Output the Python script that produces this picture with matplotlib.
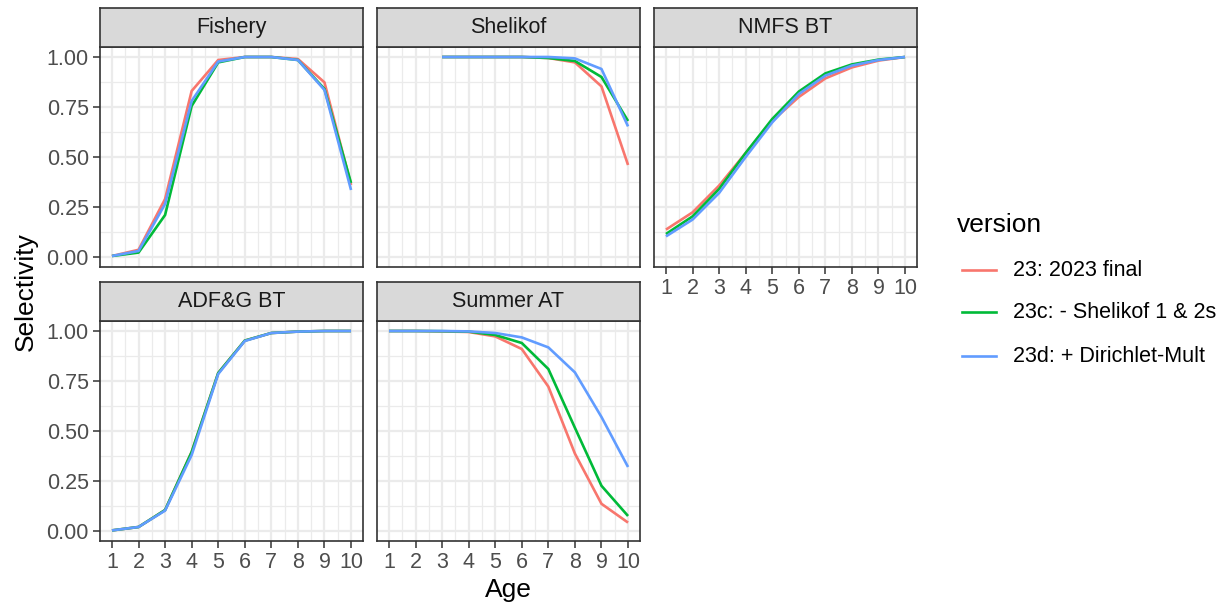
import numpy as np
import matplotlib
matplotlib.use("Agg")
from matplotlib import pyplot as plt

plt.rcParams['font.family'] = ['Liberation Sans', 'DejaVu Sans']

ages = np.arange(1, 11)
versions = ["23: 2023 final", "23c: - Shelikof 1 & 2s", "23d: + Dirichlet-Mult"]
colors = ["#F8766D", "#00BA38", "#619CFF"]

# selectivity by age, one list per version (23, 23c, 23d)
fishery = [
    [0.005, 0.036, 0.29, 0.83, 0.985, 1.0, 1.0, 0.99, 0.873, 0.36],
    [0.005, 0.022, 0.21, 0.755, 0.973, 1.0, 1.0, 0.985, 0.84, 0.37],
    [0.005, 0.030, 0.265, 0.78, 0.977, 1.0, 1.0, 0.985, 0.835, 0.335],
]
# Shelikof starts at age 3
shelikof_ages = np.arange(3, 11)
shelikof = [
    [1.0, 1.0, 1.0, 1.0, 0.995, 0.973, 0.853, 0.46],
    [1.0, 1.0, 1.0, 1.0, 0.995, 0.98, 0.90, 0.68],
    [1.0, 1.0, 1.0, 1.0, 1.0, 0.993, 0.94, 0.653],
]
nmfs_bt = [
    [0.137, 0.223, 0.357, 0.52, 0.68, 0.80, 0.893, 0.948, 0.982, 1.0],
    [0.115, 0.203, 0.34, 0.52, 0.69, 0.827, 0.918, 0.963, 0.987, 1.0],
    [0.103, 0.187, 0.32, 0.50, 0.673, 0.815, 0.907, 0.957, 0.985, 1.0],
]
adfg_bt = [
    [0.003, 0.02, 0.105, 0.395, 0.79, 0.952, 0.99, 0.997, 1.0, 1.0],
    [0.003, 0.02, 0.105, 0.395, 0.79, 0.952, 0.99, 0.997, 1.0, 1.0],
    [0.003, 0.02, 0.102, 0.38, 0.785, 0.95, 0.99, 0.997, 1.0, 1.0],
]
summer_at = [
    [1.0, 1.0, 0.998, 0.995, 0.973, 0.91, 0.722, 0.387, 0.136, 0.042],
    [1.0, 1.0, 0.999, 0.997, 0.98, 0.94, 0.81, 0.516, 0.226, 0.075],
    [1.0, 1.0, 1.0, 0.998, 0.99, 0.968, 0.918, 0.793, 0.57, 0.32],
]

panels = [
    ("Fishery", ages, fishery),
    ("Shelikof", shelikof_ages, shelikof),
    ("NMFS BT", ages, nmfs_bt),
    ("ADF&G BT", ages, adfg_bt),
    ("Summer AT", ages, summer_at),
]

W, H = 1228, 609
fig = plt.figure(figsize=(W / 100, H / 100), dpi=100)


def rect(x0, y0, x1, y1):
    return [x0 / W, 1 - y1 / H, (x1 - x0) / W, (y1 - y0) / H]


cols = [(100, 363), (377, 640), (654, 917)]
rows = [(8, 47, 267), (282, 321, 541)]
grey20 = "#333333"

for i, (name, x, series) in enumerate(panels):
    r, c = divmod(i, 3)
    x0, x1 = cols[c]
    s0, p0, p1 = rows[r]
    ax = fig.add_axes(rect(x0, p0, x1, p1))
    for y, col in zip(series, colors):
        ax.plot(x, y, color=col, lw=1.9, solid_capstyle="butt", zorder=3)
    ax.set_xlim(0.55, 10.45)
    ax.set_ylim(-0.05, 1.05)
    ax.set_xticks(ages)
    ax.set_xticks(np.arange(1.5, 10, 1), minor=True)
    ax.set_yticks([0, 0.25, 0.5, 0.75, 1.0])
    ax.set_yticks([0.125, 0.375, 0.625, 0.875], minor=True)
    ax.grid(which="major", color="#EBEBEB", lw=1.6, zorder=0)
    ax.grid(which="minor", color="#EBEBEB", lw=0.9, zorder=0)
    ax.tick_params(which="minor", length=0)
    ax.tick_params(which="major", length=5, width=1.1, color=grey20,
                   labelsize=15.5, labelcolor="#4D4D4D", pad=3)
    for sp in ax.spines.values():
        sp.set_color(grey20)
        sp.set_linewidth(1.2)
    show_x = (r == 1) or (c == 2)
    if show_x:
        ax.set_xticklabels([str(a) for a in ages])
    else:
        ax.tick_params(axis="x", length=0, labelbottom=False)
    if c == 0:
        ax.set_yticklabels(["0.00", "0.25", "0.50", "0.75", "1.00"])
    else:
        ax.tick_params(axis="y", length=0, labelleft=False)

    sax = fig.add_axes(rect(x0, s0, x1, p0))
    sax.set_facecolor("#D9D9D9")
    sax.set_xticks([])
    sax.set_yticks([])
    for sp in sax.spines.values():
        sp.set_color(grey20)
        sp.set_linewidth(1.2)
    sax.text(0.5, 0.5, name, ha="center", va="center", fontsize=15.5,
             color="#1A1A1A", transform=sax.transAxes)

fig.text(508 / W, 1 - 590 / H, "Age", ha="center", va="center", fontsize=19)
fig.text(26 / W, 1 - 292 / H, "Selectivity", ha="center", va="center",
         rotation=90, fontsize=19)

# legend
fig.text(957 / W, 1 - 225 / H, "version", ha="left", va="center", fontsize=19)
leg_y = [270, 312, 356]
for lbl, col, yy in zip(versions, colors, leg_y):
    fig.add_artist(plt.Line2D([962 / W, 996 / W], [1 - yy / H, 1 - yy / H],
                              color=col, lw=1.9, transform=fig.transFigure))
    fig.text(1013 / W, 1 - yy / H, lbl, ha="left", va="center", fontsize=15.5)

fig.savefig("out.png", dpi=100)
